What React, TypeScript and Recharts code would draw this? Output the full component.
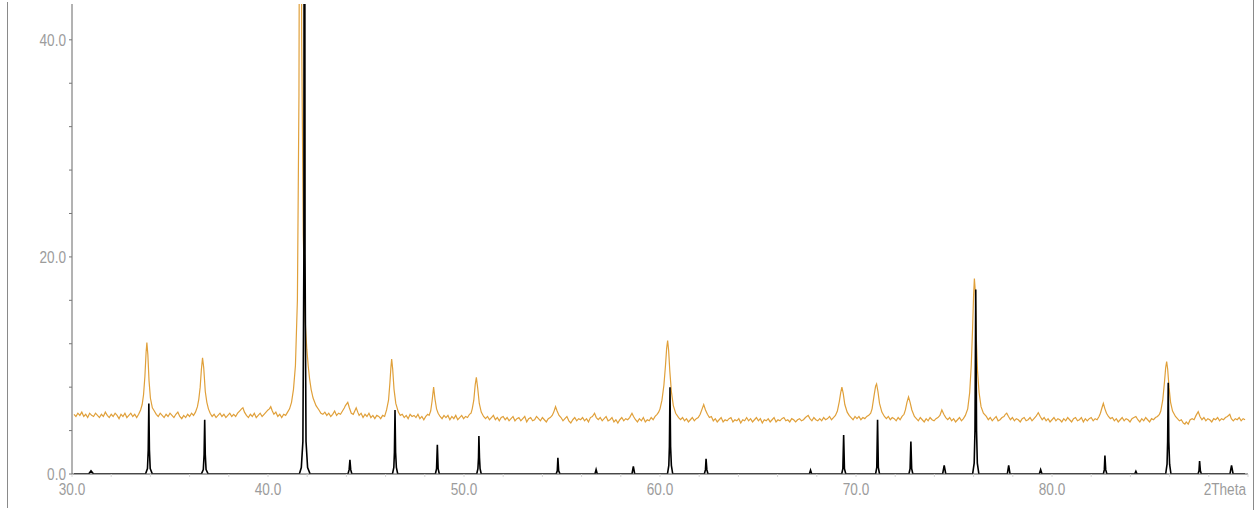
import React from 'react';
import { LineChart, Line, XAxis, YAxis } from 'recharts';

// measured scan (orange): [2theta, intensity]
const measuredScan: [number, number][] = [
  [30.1, 5.5], [30.2, 5.3], [30.3, 5.6], [30.4, 5.4], [30.5, 5.7], [30.6, 5.3], [30.7, 5.5], [30.8, 5.2], [30.9, 5.6], [31.0, 5.4],
  [31.1, 5.3], [31.2, 5.6], [31.3, 5.4], [31.4, 5.2], [31.5, 5.5], [31.6, 5.3], [31.7, 5.7], [31.8, 5.4], [31.9, 5.2], [32.0, 5.5],
  [32.1, 5.3], [32.2, 5.6], [32.3, 5.4], [32.4, 5.1], [32.5, 5.5], [32.6, 5.3], [32.7, 5.6], [32.8, 5.2], [32.9, 5.4], [33.0, 5.6],
  [33.1, 5.3], [33.2, 5.5], [33.3, 5.2], [33.4, 5.5],
  [33.5, 5.9], [33.58, 6.4], [33.65, 7.3], [33.72, 9.0], [33.78, 11.2], [33.82, 12.1], [33.87, 11.0], [33.93, 8.6], [34.0, 7.0], [34.1, 6.1],
  [34.2, 5.8], [34.3, 5.5], [34.4, 5.3], [34.5, 5.6], [34.6, 5.4], [34.7, 5.2], [34.8, 5.5], [34.9, 5.3], [35.0, 5.6], [35.1, 5.4],
  [35.2, 5.2], [35.3, 5.5], [35.4, 5.7], [35.5, 5.3], [35.6, 5.1], [35.7, 5.4], [35.8, 5.2], [35.9, 5.5], [36.0, 5.3], [36.1, 5.6],
  [36.2, 5.4], [36.3, 5.7],
  [36.4, 6.2], [36.47, 6.9], [36.54, 8.0], [36.6, 9.6], [36.66, 10.7], [36.72, 9.8], [36.8, 7.6], [36.88, 6.6], [36.96, 6.0], [37.05, 5.6],
  [37.15, 5.3], [37.25, 5.5], [37.35, 5.2], [37.45, 5.4], [37.55, 5.6], [37.65, 5.3], [37.75, 5.5], [37.85, 5.2], [37.95, 5.4], [38.05, 5.6],
  [38.15, 5.3], [38.25, 5.5], [38.35, 5.3], [38.45, 5.6], [38.55, 5.8], [38.65, 6.0], [38.72, 6.1], [38.8, 5.7], [38.9, 5.4], [39.0, 5.2],
  [39.1, 5.5], [39.2, 5.3], [39.3, 5.6], [39.4, 5.2], [39.5, 5.4], [39.6, 5.6], [39.7, 5.3], [39.8, 5.5], [39.9, 5.7], [40.0, 5.9],
  [40.07, 6.0], [40.14, 6.2], [40.22, 5.8], [40.3, 5.5], [40.4, 5.7], [40.5, 5.3], [40.6, 5.5], [40.7, 5.2], [40.8, 5.5], [40.9, 5.4],
  [41.0, 5.7], [41.1, 6.0], [41.2, 6.6], [41.3, 7.8], [41.4, 10.0], [41.5, 16], [41.58, 35], [41.65, 90], [41.72, 40], [41.8, 22],
  [41.9, 14], [41.98, 11.5], [42.05, 10.0], [42.12, 8.8], [42.2, 7.8], [42.3, 7.0], [42.45, 6.3], [42.6, 5.9], [42.7, 5.6], [42.8, 5.5],
  [42.9, 5.7], [43.0, 5.4], [43.1, 5.6], [43.2, 5.3], [43.3, 5.5], [43.4, 5.8], [43.5, 5.4], [43.6, 5.6], [43.7, 5.5], [43.8, 5.8],
  [43.9, 6.1], [43.95, 6.3], [44.07, 6.6], [44.15, 6.1], [44.25, 5.6], [44.35, 5.5], [44.45, 5.9], [44.5, 6.1], [44.58, 5.7], [44.65, 5.4],
  [44.75, 5.6], [44.85, 5.2], [44.95, 5.5], [45.05, 5.3], [45.15, 5.6], [45.25, 5.2], [45.35, 5.4], [45.45, 5.1], [45.55, 5.4], [45.65, 5.3],
  [45.75, 5.1], [45.85, 5.4], [45.95, 5.3],
  [46.05, 5.9], [46.15, 6.8], [46.22, 8.4], [46.27, 9.8], [46.31, 10.6], [46.36, 9.7], [46.43, 7.8], [46.52, 6.5], [46.65, 5.7],
  [46.75, 5.4], [46.85, 5.5], [46.95, 5.2], [47.05, 5.4], [47.15, 5.1], [47.25, 5.5], [47.35, 5.3], [47.45, 5.4], [47.55, 5.2], [47.65, 5.5],
  [47.75, 5.1], [47.85, 5.3], [47.95, 5.0], [48.05, 5.3], [48.15, 5.5], [48.22, 5.4],
  [48.3, 5.8], [48.37, 6.7], [48.45, 8.0], [48.52, 6.9], [48.6, 6.0], [48.68, 5.6],
  [48.78, 5.3], [48.88, 5.1], [48.98, 5.4], [49.08, 5.2], [49.18, 5.4], [49.28, 5.0], [49.38, 5.3], [49.48, 5.1], [49.58, 5.4], [49.68, 5.0],
  [49.78, 5.2], [49.88, 5.4], [49.98, 5.1], [50.08, 5.3], [50.18, 5.2], [50.28, 5.5], [50.36, 5.6],
  [50.42, 6.0], [50.5, 6.8], [50.57, 8.2], [50.63, 8.9], [50.7, 7.9], [50.78, 6.5], [50.88, 5.7], [51.0, 5.3],
  [51.1, 5.1], [51.2, 5.3], [51.3, 5.0], [51.4, 5.2], [51.5, 5.4], [51.6, 5.0], [51.7, 5.2], [51.8, 4.9], [51.9, 5.2], [52.0, 5.3],
  [52.1, 5.0], [52.2, 5.2], [52.3, 4.9], [52.4, 5.1], [52.5, 5.3], [52.6, 4.9], [52.7, 5.1], [52.8, 5.2], [52.9, 4.9], [53.0, 5.1],
  [53.1, 5.3], [53.2, 4.8], [53.3, 5.1], [53.4, 5.2], [53.5, 4.9], [53.6, 5.0], [53.7, 5.3], [53.8, 5.1], [53.9, 4.9], [54.0, 5.2],
  [54.1, 5.0], [54.2, 4.8], [54.3, 5.1], [54.4, 5.2], [54.5, 5.4], [54.58, 5.7], [54.67, 6.2], [54.75, 5.8], [54.85, 5.4], [54.95, 5.2],
  [55.05, 4.9], [55.15, 5.1], [55.25, 5.3], [55.35, 4.9], [55.45, 4.7], [55.55, 5.0], [55.65, 5.2], [55.75, 4.9], [55.85, 5.1], [55.95, 5.0],
  [56.05, 5.2], [56.15, 4.9], [56.25, 5.1], [56.35, 4.8], [56.45, 5.2], [56.55, 5.3], [56.66, 5.6], [56.75, 5.2], [56.85, 5.0], [56.95, 5.2],
  [57.05, 4.9], [57.15, 5.1], [57.25, 5.3], [57.35, 4.9], [57.45, 5.0], [57.55, 5.2], [57.65, 4.8], [57.75, 5.0], [57.85, 4.7], [57.95, 5.0],
  [58.05, 5.2], [58.15, 4.9], [58.25, 5.1], [58.35, 5.0], [58.45, 5.2], [58.57, 5.6], [58.65, 5.3], [58.75, 5.0], [58.85, 4.8], [58.95, 5.1],
  [59.05, 4.9], [59.15, 5.2], [59.25, 4.8], [59.35, 5.0], [59.45, 4.9], [59.55, 5.2], [59.65, 5.0], [59.75, 5.3], [59.85, 5.5], [59.93, 5.7],
  [60.0, 6.0], [60.1, 6.8], [60.2, 8.2], [60.28, 10.0], [60.34, 11.6], [60.39, 12.3], [60.44, 11.4], [60.5, 9.5], [60.58, 7.6], [60.68, 6.3],
  [60.8, 5.6], [60.95, 5.2],
  [61.05, 5.0], [61.15, 5.2], [61.25, 4.9], [61.35, 5.1], [61.45, 4.8], [61.55, 5.0], [61.65, 5.2], [61.75, 4.9], [61.85, 5.1], [61.95, 5.2],
  [62.05, 5.5], [62.15, 6.0], [62.23, 6.4], [62.32, 5.9], [62.42, 5.5], [62.52, 5.2], [62.62, 5.3], [62.72, 4.9], [62.82, 5.1], [62.92, 4.8],
  [63.02, 5.0], [63.12, 5.2], [63.22, 4.8], [63.32, 5.0], [63.42, 4.9], [63.52, 5.1], [63.62, 5.2], [63.72, 4.8], [63.82, 5.0], [63.92, 4.9],
  [64.02, 5.1], [64.12, 4.7], [64.22, 5.0], [64.32, 4.9], [64.42, 5.2], [64.52, 4.9], [64.62, 5.1], [64.72, 4.8], [64.82, 5.0], [64.92, 5.2],
  [65.02, 4.9], [65.12, 5.1], [65.22, 4.7], [65.32, 5.0], [65.42, 4.9], [65.52, 5.1], [65.62, 4.8], [65.72, 5.0], [65.82, 5.2], [65.92, 4.8],
  [66.02, 5.0], [66.12, 4.9], [66.22, 5.1], [66.32, 5.2], [66.42, 4.9], [66.52, 5.0], [66.62, 4.8], [66.72, 5.1], [66.82, 5.0], [66.92, 4.8],
  [67.02, 5.0], [67.12, 5.1], [67.22, 4.9], [67.32, 5.0], [67.42, 5.2], [67.56, 5.4], [67.65, 5.1], [67.75, 4.9], [67.85, 5.2], [67.95, 5.0],
  [68.05, 4.9], [68.15, 5.1], [68.25, 4.9], [68.35, 5.2], [68.45, 5.0], [68.55, 5.1], [68.65, 5.3], [68.75, 5.0], [68.85, 5.2], [68.95, 5.4],
  [69.05, 5.8], [69.15, 6.7], [69.22, 7.5], [69.28, 8.0], [69.35, 7.4], [69.43, 6.4], [69.55, 5.7],
  [69.65, 5.4], [69.75, 5.2], [69.85, 5.0], [69.95, 5.3], [70.05, 5.1], [70.15, 5.3], [70.25, 5.0], [70.35, 5.2], [70.45, 5.1], [70.55, 5.3],
  [70.65, 5.4], [70.75, 5.6], [70.82, 6.0], [70.92, 7.2], [71.0, 8.1], [71.05, 8.3], [71.12, 7.6], [71.2, 6.5], [71.32, 5.7], [71.45, 5.3],
  [71.55, 5.1], [71.65, 5.3], [71.75, 5.0], [71.85, 5.2], [71.95, 5.1], [72.05, 4.9], [72.15, 5.2], [72.25, 5.0], [72.35, 5.3], [72.45, 5.5],
  [72.52, 5.9], [72.6, 6.6], [72.68, 7.1], [72.76, 6.6], [72.85, 5.9], [72.98, 5.3],
  [73.08, 5.1], [73.18, 4.9], [73.28, 5.2], [73.38, 5.0], [73.48, 4.8], [73.58, 5.1], [73.68, 4.9], [73.78, 5.2], [73.88, 5.0], [73.98, 4.9],
  [74.08, 5.1], [74.18, 5.2], [74.28, 5.4], [74.38, 5.9], [74.48, 5.5], [74.58, 5.2], [74.68, 5.0], [74.78, 5.2], [74.88, 4.9], [74.98, 5.1],
  [75.08, 4.8], [75.18, 5.0], [75.28, 5.2], [75.38, 4.9], [75.48, 5.1], [75.58, 5.4],
  [75.7, 6.0], [75.8, 7.5], [75.88, 10.0], [75.95, 13.5], [76.0, 16.5], [76.04, 18.0], [76.08, 17.0], [76.13, 13.0], [76.2, 9.5], [76.28, 7.5],
  [76.38, 6.2], [76.5, 5.6], [76.65, 5.3],
  [76.75, 5.0], [76.85, 5.2], [76.95, 4.9], [77.05, 5.1], [77.15, 5.3], [77.25, 4.9], [77.35, 5.0], [77.45, 5.2], [77.55, 5.3], [77.62, 5.5],
  [77.69, 5.6], [77.78, 5.3], [77.88, 5.0], [77.98, 5.2], [78.08, 4.9], [78.18, 5.1], [78.28, 5.0], [78.38, 4.8], [78.48, 5.1], [78.58, 5.2],
  [78.68, 4.9], [78.78, 5.0], [78.88, 5.2], [78.98, 4.9], [79.08, 5.1], [79.18, 5.3], [79.3, 5.65], [79.4, 5.3], [79.5, 5.0], [79.6, 5.2],
  [79.7, 4.9], [79.8, 5.1], [79.9, 4.8], [80.0, 5.0], [80.1, 5.2], [80.2, 4.9], [80.3, 5.1], [80.4, 5.0], [80.5, 4.8], [80.6, 5.1],
  [80.7, 4.9], [80.8, 5.2], [80.9, 5.0], [81.0, 4.8], [81.1, 5.1], [81.2, 5.2], [81.3, 4.9], [81.4, 5.0], [81.5, 5.2], [81.6, 4.8],
  [81.7, 5.1], [81.8, 4.9], [81.9, 5.1], [82.0, 5.2], [82.1, 4.9], [82.2, 5.1], [82.3, 5.0], [82.4, 5.3], [82.47, 5.6], [82.55, 6.1],
  [82.62, 6.5], [82.7, 6.0], [82.78, 5.6], [82.88, 5.3], [82.98, 5.1], [83.08, 5.2], [83.18, 4.9], [83.28, 5.1], [83.38, 4.8], [83.48, 5.0],
  [83.58, 5.2], [83.68, 4.9], [83.78, 5.1], [83.88, 5.0], [83.98, 4.8], [84.08, 5.1], [84.18, 5.2], [84.28, 5.3], [84.38, 5.0], [84.48, 4.8],
  [84.58, 5.1], [84.68, 4.9], [84.78, 5.2], [84.88, 5.0], [84.98, 4.8], [85.08, 5.1], [85.18, 5.0], [85.28, 5.2], [85.38, 5.3], [85.48, 5.5],
  [85.55, 5.8], [85.65, 6.8], [85.74, 8.5], [85.8, 9.8], [85.85, 10.35], [85.9, 9.7], [85.97, 8.0], [86.05, 6.6], [86.15, 5.8], [86.3, 5.3],
  [86.4, 5.1], [86.5, 4.9], [86.6, 5.0], [86.7, 4.7], [86.78, 4.6], [86.85, 4.8], [86.95, 4.6], [87.05, 5.0], [87.15, 5.1], [87.25, 5.0],
  [87.35, 5.4], [87.46, 5.75], [87.55, 5.3], [87.65, 5.0], [87.75, 5.2], [87.85, 4.9], [87.95, 5.1], [88.05, 5.0], [88.15, 4.8], [88.25, 5.1],
  [88.35, 5.0], [88.45, 5.2], [88.55, 4.9], [88.65, 5.1], [88.75, 5.0], [88.85, 5.2], [88.95, 5.3], [89.07, 5.5], [89.15, 5.1], [89.25, 4.9],
  [89.35, 5.1], [89.45, 5.0], [89.55, 5.2], [89.65, 4.9], [89.75, 5.1], [89.85, 5.0],
];

// reference pattern (black): [2theta, intensity]
const referencePattern: [number, number][] = [
  [30.1, 0], [30.85, 0], [30.97, 0.3], [31.1, 0],
  [33.75, 0], [33.85, 0.5], [33.89, 2.2], [33.92, 6.5], [33.95, 2.2], [33.99, 0.5], [34.1, 0],
  [36.6, 0], [36.7, 0.4], [36.74, 1.8], [36.77, 5.0], [36.8, 1.8], [36.84, 0.4], [36.95, 0],
  [41.6, 0], [41.7, 0.6], [41.78, 3], [41.83, 20], [41.86, 100], [41.89, 20], [41.94, 3], [42.02, 0.6], [42.15, 0],
  [44.08, 0], [44.14, 0.4], [44.18, 1.3], [44.22, 0.4], [44.28, 0],
  [46.35, 0], [46.42, 0.6], [46.45, 2.0], [46.48, 5.9], [46.51, 2.0], [46.55, 0.6], [46.62, 0],
  [48.54, 0], [48.6, 0.5], [48.64, 2.7], [48.68, 0.5], [48.74, 0],
  [50.65, 0], [50.71, 0.5], [50.74, 1.5], [50.76, 3.5], [50.79, 1.5], [50.82, 0.5], [50.88, 0],
  [54.7, 0], [54.76, 0.3], [54.79, 1.5], [54.83, 0.3], [54.9, 0],
  [56.68, 0], [56.74, 0.4], [56.8, 0],
  [58.57, 0], [58.64, 0.7], [58.71, 0],
  [60.38, 0], [60.45, 0.8], [60.48, 2.5], [60.51, 8.0], [60.54, 2.5], [60.58, 0.8], [60.65, 0],
  [62.26, 0], [62.32, 0.4], [62.35, 1.4], [62.39, 0.4], [62.45, 0],
  [67.62, 0], [67.68, 0.35], [67.74, 0],
  [69.27, 0], [69.33, 0.5], [69.37, 3.6], [69.41, 0.5], [69.48, 0],
  [71.0, 0], [71.06, 0.6], [71.1, 5.0], [71.14, 0.6], [71.2, 0],
  [72.7, 0], [72.76, 0.5], [72.8, 3.0], [72.84, 0.5], [72.9, 0],
  [74.42, 0], [74.5, 0.8], [74.58, 0],
  [75.95, 0], [76.03, 1.0], [76.07, 4.0], [76.11, 17.0], [76.15, 4.0], [76.19, 1.0], [76.27, 0],
  [77.72, 0], [77.79, 0.8], [77.86, 0],
  [79.35, 0], [79.42, 0.4], [79.49, 0],
  [82.62, 0], [82.67, 0.4], [82.7, 1.7], [82.74, 0.4], [82.8, 0],
  [84.22, 0], [84.28, 0.25], [84.34, 0],
  [85.8, 0], [85.87, 0.9], [85.9, 3.0], [85.93, 8.4], [85.96, 3.0], [86.0, 0.9], [86.07, 0],
  [87.45, 0], [87.5, 0.3], [87.53, 1.2], [87.57, 0.3], [87.62, 0],
  [89.08, 0], [89.16, 0.8], [89.24, 0], [89.85, 0],
];

const xTicks = [30, 32, 34, 36, 38, 40, 42, 44, 46, 48, 50, 52, 54, 56, 58, 60, 62, 64, 66, 68, 70, 72, 74, 76, 78, 80, 82, 84, 86, 88, 90];
const xLabels: Record<number, string> = { 30: '30.0', 40: '40.0', 50: '50.0', 60: '60.0', 70: '70.0', 80: '80.0', 90: '2Theta' };
const yTicks = [0, 4, 8, 12, 16, 20, 24, 28, 32, 36, 40];
const yLabels: Record<number, string> = { 0: '0.0', 20: '20.0', 40: '40.0' };

const scanData = measuredScan.map(([t, i]) => ({ t, i }));
const refData = referencePattern.map(([t, i]) => ({ t, i }));

const FONT = '"Liberation Sans", Arial, sans-serif';
const LABEL_COLOR = '#9c9c9c';

// narrow labels: regular sans squeezed horizontally
const XTick = (props: any) => {
  const { x, y, payload } = props;
  const label = xLabels[payload.value] ?? '';
  if (!label) return null;
  const isUnit = payload.value === 90;
  return (
    <text transform={`translate(${isUnit ? x - 2 : x},${y}) scale(0.8,1)`} dy="0.71em"
      textAnchor={isUnit ? 'end' : 'middle'} fill={LABEL_COLOR} fontSize={17} fontFamily={FONT}>
      {label}
    </text>
  );
};

const YTick = (props: any) => {
  const { x, y, payload } = props;
  const label = yLabels[payload.value] ?? '';
  if (!label) return null;
  return (
    <text transform={`translate(${x},${y}) scale(0.8,1)`} dy="0.355em" textAnchor="end"
      fill={LABEL_COLOR} fontSize={17} fontFamily={FONT}>
      {label}
    </text>
  );
};

export default function App() {
  return (
    <div style={{ position: 'absolute', left: 0, top: 0, width: 1258, height: 510, background: '#fff' }}>
      <div style={{ position: 'absolute', left: 7, top: 2, width: 1, height: 506, background: '#8a8a8a' }} />
      <div style={{ position: 'absolute', left: 1253, top: 0, width: 1, height: 510, background: '#8a8a8a' }} />
      <LineChart width={1258} height={510} margin={{ top: 4, right: 10, bottom: 0, left: 0 }}>
        <XAxis
          dataKey="t"
          type="number"
          domain={[30, 90]}
          allowDataOverflow
          ticks={xTicks}
          interval={0}
          height={36}
          tickSize={3}
          tickMargin={6}
          stroke="#555"
          tickLine={{ stroke: '#d8d8d8' }}
          tick={<XTick />}
        />
        <YAxis
          type="number"
          domain={[0, 43.3]}
          allowDataOverflow
          ticks={yTicks}
          interval={0}
          width={72}
          tickSize={3}
          tickMargin={3}
          stroke="#666"
          tickLine={{ stroke: '#777' }}
          tick={<YTick />}
        />
        <Line data={scanData} dataKey="i" type="linear" stroke="#e0a03a" strokeWidth={1.2}
          dot={false} isAnimationActive={false} />
        <Line data={refData} dataKey="i" type="linear" stroke="#000" strokeWidth={1.6}
          dot={false} isAnimationActive={false} />
      </LineChart>
    </div>
  );
}
